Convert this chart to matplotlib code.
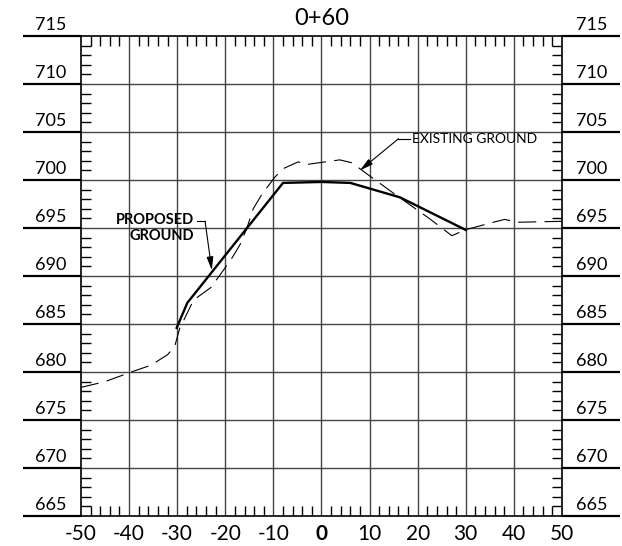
# Cross section 0+60: proposed vs existing ground
import matplotlib.pyplot as plt
from matplotlib.ticker import MultipleLocator

plt.rcParams['font.family'] = ['Lato', 'DejaVu Sans']
plt.rcParams['lines.scale_dashes'] = False
plt.rcParams['axes.unicode_minus'] = False

title = '0+60'
x_ticks = [-50, -40, -30, -20, -10, 0, 10, 20, 30, 40, 50]
elev_levels = [665, 670, 675, 680, 685, 690, 695, 700, 705, 710, 715]

# existing ground (dashed)
existing_x = [-50, -45, -39, -35.5, -32, -30.5, -29.5, -26.6, -23, -20.4, -18.7,
              -16.9, -15.5, -14.2, -12.4, -9.7, -7.9, -4.8, -3.4, 3.8, 6.3, 10.1,
              15.6, 22.4, 27.1, 29.8, 35.7, 38.1, 40.6, 50]
existing_y = [678.4, 679.0, 680.1, 680.7, 681.8, 682.7, 684.5, 687.5, 688.8, 690.6, 691.8,
              693.3, 695.0, 697.0, 698.5, 700.3, 701.2, 701.9, 701.6, 702.1, 701.8, 700.4,
              698.4, 696.0, 694.2, 694.8, 695.6, 695.9, 695.6, 695.7]

# proposed ground (solid)
proposed_x = [-30.1, -27.9, -8, 0, 6, 16.3, 30]
proposed_y = [684.6, 687.2, 699.7, 699.8, 699.7, 698.2, 694.8]

fig = plt.figure(figsize=(6.22, 5.46), dpi=100)
ax = fig.add_axes([0.1302, 0.0549, 0.7733, 0.8791])

ax.set_xlim(-50, 50)
ax.set_ylim(665, 715)

# grid
for x in x_ticks[1:-1]:
    ax.axvline(x, color='#444444', lw=1.0, zorder=1)
for y in elev_levels[1:-1]:
    ax.axhline(y, color='#444444', lw=1.0, zorder=1)

for s in ax.spines.values():
    s.set_linewidth(1.2)
    s.set_color('black')

# ticks
ax.set_xticks(x_ticks)
ax.xaxis.set_minor_locator(MultipleLocator(2))
ax.set_yticks(elev_levels)
ax.yaxis.set_minor_locator(MultipleLocator(1))
ax.set_yticklabels([])
ax.tick_params(which='both', direction='in', top=True, right=True, width=1.0, color='black')
ax.tick_params(which='minor', length=7.2)
ax.tick_params(which='major', length=0)
ax.tick_params(axis='x', which='major', labelsize=15, pad=6)
for lbl in ax.get_xticklabels():
    if lbl.get_text() == '0':
        lbl.set_fontweight('bold')

# elevation lines extended outside the frame, with labels
for y in elev_levels:
    ax.plot([-62, -50], [y, y], color='black', lw=1.6, clip_on=False, solid_capstyle='butt')
    ax.plot([50, 62], [y, y], color='black', lw=1.6, clip_on=False, solid_capstyle='butt')
    ax.text(-53, y + 0.3, str(y), ha='right', va='bottom', fontsize=13, clip_on=False)
    ax.text(52.9, y + 0.3, str(y), ha='left', va='bottom', fontsize=13, clip_on=False)

ax.plot(existing_x, existing_y, color='black', lw=0.8, linestyle=(0, (13, 6)), zorder=3)
ax.plot(proposed_x, proposed_y, color='black', lw=1.7, zorder=4, solid_joinstyle='miter')

# annotations
ax.plot([18.4, 16.0], [704.3, 704.3], color='black', lw=0.8, zorder=5)
ax.annotate('', xy=(8.0, 701.0), xytext=(16.0, 704.3),
            arrowprops=dict(arrowstyle='-|>,head_length=0.8,head_width=0.2',
                            color='black', lw=0.8, shrinkA=0, shrinkB=0), zorder=5)
ax.text(18.8, 704.3, 'EXISTING GROUND', fontsize=10, ha='left', va='center', zorder=5)

ax.plot([-25.9, -24.2], [695.7, 695.7], color='black', lw=0.8, zorder=5)
ax.annotate('', xy=(-22.8, 690.6), xytext=(-24.2, 695.7),
            arrowprops=dict(arrowstyle='-|>,head_length=0.8,head_width=0.2',
                            color='black', lw=0.8, shrinkA=0, shrinkB=0), zorder=5)
ax.text(-26.6, 696.6, 'PROPOSED\nGROUND', fontsize=10.5, fontweight='bold',
        ha='right', va='top', multialignment='right', linespacing=1.25, zorder=5)

fig.text(321.5 / 622, 1 - 18.5 / 546, title, ha='center', va='center', fontsize=17)

fig.savefig('out.png', dpi=100)
